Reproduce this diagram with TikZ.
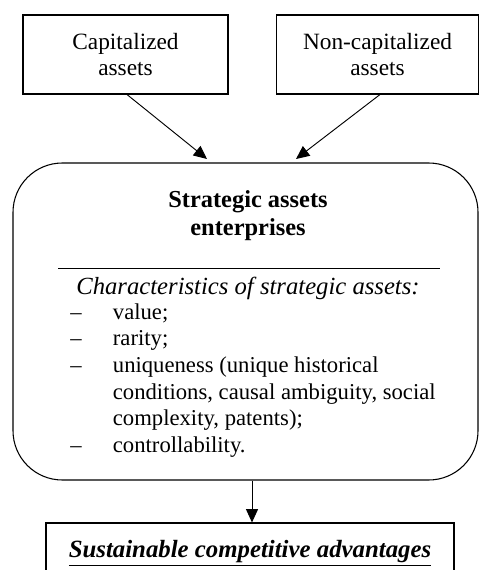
\documentclass[tikz,border=0pt]{standalone}
\usepackage{fontspec}
\setmainfont{Liberation Serif}
\usetikzlibrary{arrows.meta,positioning}

\begin{document}
\begin{tikzpicture}[
  x=0.75pt, y=-0.75pt,
  every node/.style={font=\fontsize{17.5}{20}\selectfont},
  source/.style={
    draw=black,
    line width=0.8pt,
    align=center,
    minimum width=#1,
    minimum height=59.25pt,
    inner sep=2pt
  },
  core/.style={
    draw=black,
    line width=0.8pt,
    rounded corners=37pt,
    minimum width=348.75pt,
    minimum height=237.75pt
  },
  result/.style={
    draw=black,
    line width=0.8pt,
    minimum width=306pt,
    minimum height=45pt,
    font=\bfseries\itshape\fontsize{18.6}{21}\selectfont
  },
  arrow/.style={-{Triangle[length=10pt,width=9pt]}, line width=0.7pt, draw=black}
]
\useasboundingbox (0,0) rectangle (479,570);

\node[source=153.75pt] (cap) at (125.5,54.5) {Capitalized\\assets};
\node[source=151.5pt] (noncap) at (377.5,54.5) {Non-capitalized\\assets};

\node[core] (strat) at (245.5,321.5) {};
\node[align=center, font=\bfseries\fontsize{18.3}{21}\selectfont] (title) at (248,216)
  {Strategic assets\\enterprises};
\draw[line width=0.7pt] (58,268) coordinate (ruleL) -- (440,268) coordinate (ruleR);
\node[font=\itshape\fontsize{18.5}{20}\selectfont] (traits) at (248,288)
  {Characteristics of strategic assets:};
\node[anchor=base west, inner sep=0pt, font=\fontsize{17}{20}\selectfont] (list) at (70,319) {%
  \begin{tabular}[t]{@{}p{32pt}@{}p{250pt}@{}}
  -- & value;\\
  -- & rarity;\\
  -- & uniqueness (unique historical\newline conditions, causal ambiguity, social\newline complexity, patents);\\
  -- & controllability.
  \end{tabular}};

\node[result] (adv) at (250,553) {\underline{Sustainable competitive advantages}};

\coordinate (capin) at (207,159);
\coordinate (noncapin) at (296,159);
\draw[arrow] (cap.south -| 127,0) -- (capin);
\draw[arrow] (noncap.south -| 380,0) -- (noncapin);
\draw[arrow] (strat.south -| 252,0) -- (adv.north -| 252,0);
\end{tikzpicture}
\end{document}
